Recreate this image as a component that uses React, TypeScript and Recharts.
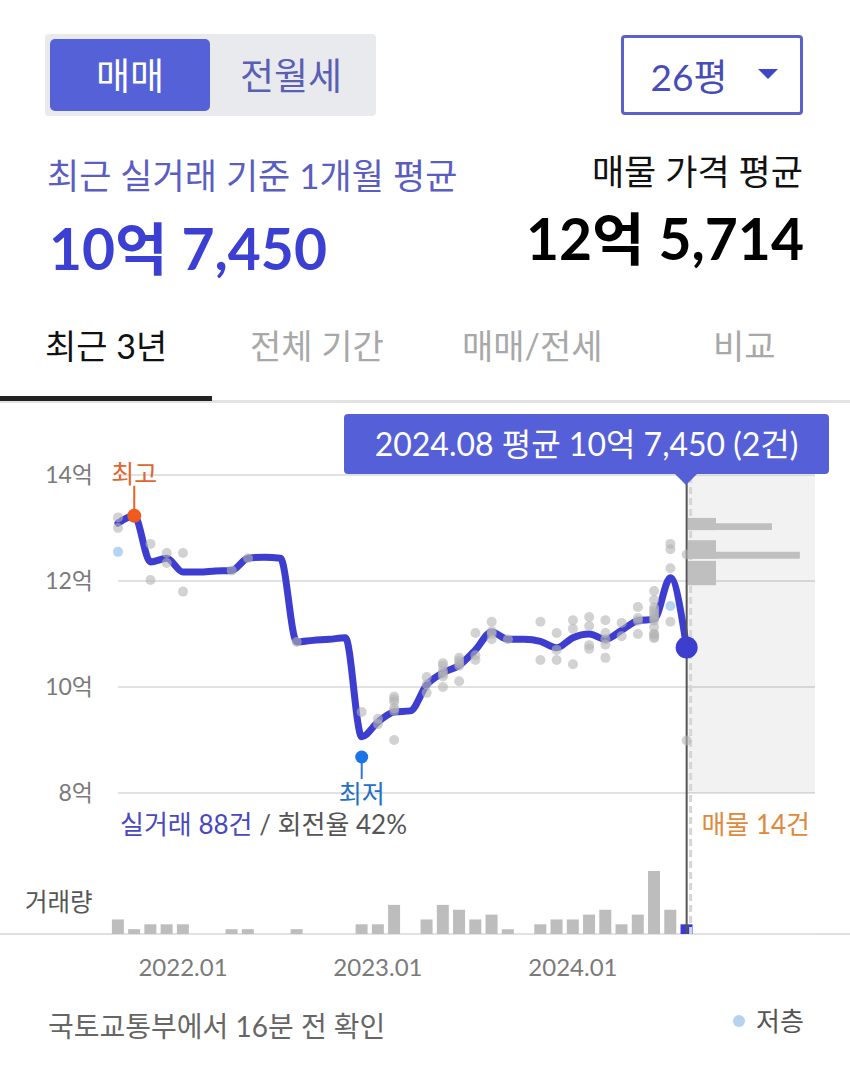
import React from "react";
import {
  ComposedChart,
  Line,
  Scatter,
  Bar,
  Cell,
  XAxis,
  YAxis,
  CartesianGrid,
  ReferenceArea,
  ReferenceLine,
  ReferenceDot,
} from "recharts";

const FONT = 'Lato, "Noto Sans CJK KR", "Noto Sans", sans-serif';

// month index -> label
const months = [
  "2021.09", "2021.10", "2021.11", "2021.12", "2022.01", "2022.02", "2022.03", "2022.04",
  "2022.05", "2022.06", "2022.07", "2022.08", "2022.09", "2022.10", "2022.11", "2022.12",
  "2023.01", "2023.02", "2023.03", "2023.04", "2023.05", "2023.06", "2023.07", "2023.08",
  "2023.09", "2023.10", "2023.11", "2023.12", "2024.01", "2024.02", "2024.03", "2024.04",
  "2024.05", "2024.06", "2024.07", "2024.08",
];

// monthly average trade price (억)
const monthlyAvg = [
  13.09, 13.23, 12.36, 12.43, 12.17, 12.17, 12.19, 12.2,
  12.43, 12.45, 12.43, 10.85, 10.88, 10.9, 10.93, 9.06,
  9.34, 9.53, 9.55, 10.04, 10.27, 10.41, 10.7, 11.04,
  10.9, 10.9, 10.86, 10.74, 10.93, 11.0, 10.9, 11.07,
  11.25, 11.28, 12.06, 10.745,
];

// single trades: [month index, price (억), low floor]
const trades: [number, number, boolean][] = [
  [0, 13.2, false], [0, 13.0, false], [0, 12.55, true],
  [1, 13.23, false],
  [2, 12.7, false], [2, 12.02, false],
  [3, 12.53, false], [3, 12.34, false],
  [4, 12.53, false], [4, 11.8, false],
  [7, 12.2, false],
  [8, 12.43, false],
  [11, 10.85, false],
  [15, 9.53, false], [15, 8.68, false],
  [16, 9.3, false], [16, 9.4, false],
  [17, 9.82, false], [17, 9.77, false], [17, 9.72, false], [17, 9.0, false], [17, 9.55, false], [17, 9.6, false],
  [19, 10.19, false], [19, 9.89, false], [19, 10.05, false],
  [20, 10.45, false], [20, 10.0, false], [20, 10.3, false], [20, 10.25, false], [20, 10.2, false], [20, 10.4, false],
  [21, 10.55, false], [21, 10.11, false], [21, 10.4, false], [21, 10.45, false], [21, 10.5, false],
  [22, 11.02, false], [22, 10.51, false], [22, 10.6, false],
  [23, 11.23, false], [23, 10.9, false], [23, 11.0, false], [23, 11.05, false],
  [24, 10.9, false],
  [26, 11.23, false], [26, 10.51, false],
  [27, 11.02, false], [27, 10.51, false], [27, 10.7, false],
  [28, 11.26, false], [28, 10.43, false], [28, 11.1, false],
  [29, 11.32, false], [29, 11.15, false], [29, 10.79, false], [29, 10.72, false],
  [30, 11.26, false], [30, 11.02, false], [30, 10.55, false], [30, 10.9, false], [30, 10.8, false],
  [31, 11.21, false], [31, 10.96, false],
  [32, 11.51, false], [32, 11.0, false], [32, 11.25, false], [32, 11.3, false],
  [33, 11.81, false], [33, 11.64, false], [33, 11.4, false], [33, 11.13, false], [33, 11.0, false],
  [33, 10.92, false], [33, 11.0, false], [33, 10.95, false], [33, 11.3, false], [33, 11.25, false],
  [33, 11.35, false], [33, 11.5, false], [33, 11.45, false],
  [34, 12.7, false], [34, 12.6, false], [34, 11.53, true], [34, 11.23, false], [34, 12.24, false],
  [35, 12.5, false], [35, 8.99, false],
];

// current listings histogram: price band (억) and bar length
const listingLo = [12.96, 12.96, 12.42, 12.42, 11.92];
const listingHi = [13.19, 13.09, 12.77, 12.55, 12.38];
const listingLen = [1, 3, 1, 4, 1];
const listingTotal = 14;
const listingAvg = "12억 5,714";
const turnover = 42;

const priceTicks = [8, 10, 12, 14];
const xTickLabels = ["2022.01", "2023.01", "2024.01"];

const X_DOMAIN: [number, number] = [0, 42.9];
const PRICE_DOMAIN: [number, number] = [5.34, 14];
const VOL_DOMAIN: [number, number] = [0, 94.6];

const fmtEok = (v: number) => {
  const eok = Math.floor(v);
  const man = Math.round((v - eok) * 10000);
  return `${eok}억 ${man.toLocaleString("en-US")}`;
};

function T({ x, y, size, color, children, weight = 400, anchor = "start" }: any) {
  const h = Math.round(size * 1.4);
  const style: React.CSSProperties = {
    position: "absolute",
    top: y - h / 2,
    height: h,
    lineHeight: `${h}px`,
    fontSize: size,
    color,
    fontWeight: weight,
    whiteSpace: "nowrap",
    fontFamily: FONT,
  };
  if (anchor === "end") style.right = 850 - x;
  else if (anchor === "middle") {
    style.left = x;
    style.transform = "translateX(-50%)";
  } else style.left = x;
  return <div style={style}>{children}</div>;
}

const CursorLine = (p: any) => (
  <g>
    <line x1={p.x1 + 4} x2={p.x2 + 4} y1={p.y1} y2={p.y2} stroke="#d6d6d6" strokeWidth={3} strokeDasharray="7 4" />
    <line x1={p.x1} x2={p.x2} y1={p.y1} y2={p.y2} stroke="#555" strokeWidth={2} />
  </g>
);

const HighMark = (p: any) => (
  <g>
    <line x1={p.cx} x2={p.cx} y1={p.cy - 30} y2={p.cy - 6} stroke="#e8632a" strokeWidth={2} />
    <circle cx={p.cx} cy={p.cy} r={7} fill="#f05a1e" />
    <text x={p.cx} y={p.cy - 43} textAnchor="middle" dominantBaseline="central" fontSize={25} fill="#e0652e" fontFamily={FONT}>
      최고
    </text>
  </g>
);

const LowMark = (p: any) => (
  <g>
    <line x1={p.cx} x2={p.cx} y1={p.cy + 5} y2={p.cy + 22} stroke="#2b78d8" strokeWidth={2} />
    <circle cx={p.cx} cy={p.cy} r={6.5} fill="#1c73e6" />
    <text x={p.cx} y={p.cy + 36} textAnchor="middle" dominantBaseline="central" fontSize={25} fill="#2270c8" fontFamily={FONT}>
      최저
    </text>
  </g>
);

const TradeDot = (p: any) => (
  <circle cx={p.cx} cy={p.cy} r={5} fill={p.payload.low ? "#b3d1f2" : "#b4b4b4"} fillOpacity={p.payload.low ? 0.95 : 0.6} />
);

export default function App() {
  const sel = months.length - 1;
  const rows = months.map((m, i) => ({
    idx: i,
    month: m,
    avg: monthlyAvg[i],
    count: trades.filter((t) => t[0] === i).length,
  }));
  const dots = trades.map(([i, p, low]) => ({ idx: i, price: p, low }));
  const high = dots.reduce((a, b) => (b.price > a.price ? b : a));
  const low = dots.reduce((a, b) => (b.price < a.price ? b : a));
  const xTicks = xTickLabels.map((l) => months.indexOf(l));
  const listings = listingLo.map((lo, i) => ({ lo, hi: listingHi[i], n: listingLen[i] }));
  const tip = `${months[sel]} 평균 ${fmtEok(rows[sel].avg)} (${rows[sel].count}건)`;

  const tickStyle = { fontSize: 23, fill: "#7a7a7a", fontFamily: FONT };

  return (
    <div style={{ position: "relative", width: 850, height: 1078, background: "#fff", fontFamily: FONT, overflow: "hidden" }}>
      <style>{"body{margin:0}"}</style>

      {/* segmented control */}
      <div style={{ position: "absolute", left: 45, top: 34, width: 331, height: 82, background: "#e9eaee", borderRadius: 4 }} />
      <div style={{ position: "absolute", left: 50, top: 39, width: 160, height: 72, background: "#5561d6", borderRadius: 5 }} />
      <T x={130} y={76} size={37} color="#fff" anchor="middle">매매</T>
      <T x={291} y={76} size={37} color="#5a5fb5" anchor="middle">전월세</T>

      {/* dropdown */}
      <div style={{ position: "absolute", left: 621, top: 35, width: 176, height: 74, border: "3px solid #5a62c9", borderRadius: 4 }} />
      <T x={689} y={77} size={37} color="#474cb8" anchor="middle">26평</T>
      <div style={{ position: "absolute", left: 758, top: 69, width: 0, height: 0, borderLeft: "10px solid transparent", borderRight: "10px solid transparent", borderTop: "10px solid #3f46c6" }} />

      {/* summary */}
      <T x={47} y={175} size={35} color="#5a5ec2">최근 실거래 기준 1개월 평균</T>
      <T x={49} y={248} size={57} weight={700} color="#3b3fd2">{fmtEok(monthlyAvg[sel])}</T>
      <T x={803} y={171} size={35} color="#111" anchor="end">매물 가격 평균</T>
      <T x={804} y={238} size={57} weight={700} color="#000" anchor="end">{listingAvg}</T>

      {/* tabs */}
      <T x={45} y={346} size={34} color="#111">최근 3년</T>
      <T x={250} y={346} size={34} color="#a8a8a8">전체 기간</T>
      <T x={462} y={346} size={34} color="#a8a8a8">매매/전세</T>
      <T x={713} y={346} size={34} color="#a8a8a8">비교</T>
      <div style={{ position: "absolute", left: 0, top: 400, width: 850, height: 3, background: "#e2e2e2" }} />
      <div style={{ position: "absolute", left: 0, top: 396, width: 212, height: 5, background: "#222" }} />

      {/* volume baseline */}
      <div style={{ position: "absolute", left: 0, top: 933, width: 850, height: 2, background: "#e0e0e0" }} />

      <div style={{ position: "absolute", left: 0, top: 440 }}>
        <ComposedChart width={850} height={550} data={rows} margin={{ top: 35, right: 35, bottom: 0, left: 0 }}>
          <CartesianGrid yAxisId="p" vertical={false} stroke="#e2e2e2" strokeWidth={2} />
          <XAxis
            type="number"
            dataKey="idx"
            domain={X_DOMAIN}
            ticks={xTicks}
            interval={0}
            tickFormatter={(v) => months[v]}
            height={56}
            axisLine={false}
            tickLine={false}
            tickSize={0}
            tickMargin={25}
            tick={{ ...tickStyle, fontSize: 24 }}
          />
          <YAxis
            yAxisId="p"
            type="number"
            domain={PRICE_DOMAIN}
            ticks={priceTicks}
            interval={0}
            tickFormatter={(v) => `${v}억`}
            width={118}
            axisLine={false}
            tickLine={false}
            tickSize={0}
            tickMargin={25}
            tick={tickStyle}
          />
          <YAxis yAxisId="v" hide domain={VOL_DOMAIN} />
          <ReferenceArea x1={sel} x2={X_DOMAIN[1]} y1={8} y2={14} yAxisId="p" fill="#000" fillOpacity={0.05} stroke="none" />
          <Bar yAxisId="v" dataKey="count" barSize={12} isAnimationActive={false}>
            {rows.map((r) => (
              <Cell key={r.idx} fill={r.idx === sel ? "#3a3ad6" : "#bdbdbd"} />
            ))}
          </Bar>
          <Scatter yAxisId="p" data={dots} dataKey="price" shape={TradeDot} isAnimationActive={false} />
          <Line
            yAxisId="p"
            dataKey="avg"
            type="monotone"
            stroke="#3d3dd0"
            strokeWidth={7}
            strokeLinecap="round"
            strokeLinejoin="round"
            dot={false}
            activeDot={false}
            isAnimationActive={false}
          />
          <ReferenceLine x={sel} yAxisId="p" shape={CursorLine} />
          <ReferenceDot x={high.idx} y={high.price} yAxisId="p" shape={HighMark} />
          <ReferenceDot x={low.idx} y={low.price} yAxisId="p" shape={LowMark} />
          <ReferenceDot x={sel} y={rows[sel].avg} yAxisId="p" r={11} fill="#3d3dd0" stroke="none" />
        </ComposedChart>
      </div>

      {/* listing histogram */}
      <div style={{ position: "absolute", left: 688, top: 440 }}>
        <ComposedChart width={127} height={550} data={listings} margin={{ top: 35, right: 0, bottom: 56, left: 0 }}>
          <XAxis type="number" dataKey="n" domain={[0, 4.54]} hide allowDataOverflow />
          <YAxis type="number" domain={PRICE_DOMAIN} hide allowDataOverflow />
          <Scatter dataKey="lo" shape={() => <g />} isAnimationActive={false} />
          {listings.map((l, i) => (
            <ReferenceArea key={i} x1={0} x2={l.n} y1={l.lo} y2={l.hi} fill="#bfbfbf" fillOpacity={1} stroke="none" />
          ))}
        </ComposedChart>
      </div>

      {/* tooltip */}
      <div style={{ position: "absolute", left: 344, top: 414, width: 485, height: 60, background: "#5560d8", borderRadius: 4, color: "#fff", fontSize: 32, lineHeight: "60px", textAlign: "center", fontFamily: FONT, whiteSpace: "nowrap" }}>
        {tip}
      </div>
      <div style={{ position: "absolute", left: 675, top: 474, width: 0, height: 0, borderLeft: "11px solid transparent", borderRight: "11px solid transparent", borderTop: "11px solid #5560d8" }} />

      {/* chart captions */}
      <T x={120} y={824} size={26} color="#4a48c0">
        실거래 {trades.length}건 <span style={{ color: "#555" }}>/ 회전율 {turnover}%</span>
      </T>
      <T x={810} y={824} size={26} color="#e0893a" anchor="end">매물 {listingTotal}건</T>
      <T x={25} y={902} size={24.5} color="#555">거래량</T>

      {/* footer */}
      <T x={48} y={1026} size={28} color="#666">국토교통부에서 16분 전 확인</T>
      <div style={{ position: "absolute", left: 733, top: 1015, width: 12, height: 12, borderRadius: 6, background: "#b5d2f0" }} />
      <T x={756} y={1021} size={26} color="#555">저층</T>
    </div>
  );
}
